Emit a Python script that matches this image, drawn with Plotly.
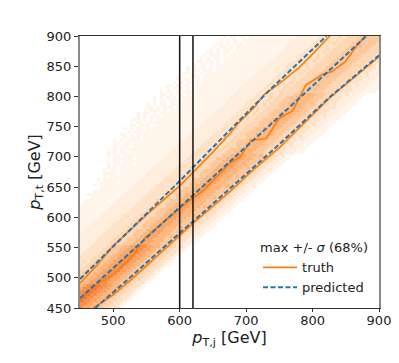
import plotly.graph_objects as go

bin_x = [452.5 + 5 * i for i in range(90)]
bin_y = [452.5 + 5 * j for j in range(90)]

# Density levels, 5 GeV cells. Each row is a faint upper tail
# (right-anchored) followed by a band profile picked by row_core.
band_A = "33333445567889988776655443321"
band_a = "33334455566778887766555443321"
band_B = "333344445556677766655544332211"
band_b = "333343444556677766656544332211"
band_C = "33334344455566666555444333222111"
band_c = "33343344445556666555444332322111"
band_D = "3333343444455555554444333322221111"
band_d = "3333433444455565554444333232221111"
bands = {"A": band_A, "a": band_a, "B": band_B, "b": band_b, "C": band_C, "c": band_c, "D": band_D, "d": band_d}
row_core = ("AAAAAAAA"
            "aaaaaaaaaaaaa"
            "BBbBBbBBBbBBbBBbBBBbBBbBBbBBBb"
            "CCcCCcCCCcCCcCCcCCCc"
            "DDdDDdDDDdDDdDDdDDD")
row_tail = ["1111111111"] * 33 + [
    "11111111111", "111111111", "1111111011", "111111111", "11111111101",
    "1111111111", "111111111", "101111111111", "11111011111", "1011111111111",
    "0101111111111", "1111011111111", "10110111111111", "11101111111111", "101111110111111",
    "1011011111111111", "10111111011111111", "101101111111111111", "1110110111111111111", "10101111111111111111",
    "1011101111111111111", "11011011111111111111", "101011111111111111111", "1011101111111111111", "110101111111111111111",
    "10111011111111111111", "1010110111111111111111", "110111011111111111111", "1011011111111111111111", "1101010111111111111111",
    "1010111011111111111111", "10110101111111111111111", "1011101011111111111111", "1101011101111111111111", "10101101111111111111111",
    "1011011101111111111111", "10101110111111111111111", "1101011011111111111111", "10110101111111111111111", "1011101011111111111111",
    "11010110111111111111111", "1010110101111111111111", "1011011011111111111111", "10101110111111111111111", "1101010111111111111111",
    "1011011101111111111111", "10101101011111111111111", "1011010111111111111111", "1101101011111111111111", "1010110111111111111111",
    "1011101011111111111111", "1101011011111111111111", "1010111011111111111111", "1011010111111111111111", "1101011101111111111111",
    "1010110111111111111111", "1011011011111111111111",
]
TWOS = "22222223"

z = [[0] * 90 for _ in range(90)]
for j in range(90):
    text = row_tail[j] + TWOS + bands[row_core[j]]
    first = j - 16 - len(row_tail[j]) - len(TWOS)
    for n, ch in enumerate(text):
        i = first + n
        if 0 <= i < 90:
            z[j][i] = int(ch)

truth_upper_x = [450, 475, 500, 550, 600, 650, 676, 686, 713, 728, 751, 780, 800, 826]
truth_upper_y = [491, 520, 553, 604, 652, 708, 739, 753, 783, 804, 822, 848, 870, 900]
truth_center_x = [450, 485, 500, 528, 548, 600, 620, 635, 676, 691, 708, 730, 750, 770, 790, 816, 829, 849, 864, 879]
truth_center_y = [465, 496, 505, 534, 566, 615, 632, 644, 690, 700, 728, 730, 764, 776, 819, 837, 841, 857, 880, 900]
truth_lower_x = [470, 500, 530, 600, 620, 676, 711, 751, 826, 900]
truth_lower_y = [450, 472, 500, 571, 590, 643, 679, 716, 798, 866]

pred_upper_x = [450, 500, 550, 600, 650, 676, 733, 800, 821]
pred_upper_y = [498, 552, 606, 660, 716, 745, 808, 878, 900]
pred_center_x = [450, 500, 550, 600, 650, 700, 776, 881]
pred_center_y = [466, 516, 566, 616, 666, 716, 793, 900]
pred_lower_x = [473, 500, 528, 600, 620, 676, 711, 751, 826, 900]
pred_lower_y = [450, 476, 503, 574, 593, 648, 683, 722, 799, 868]

vlines_x = [600, 620]

colors = ["#ffffff", "#fff5eb", "#ffeddd", "#fee3c8", "#fed7b4", "#fdc89c", "#fdb880", "#fba566", "#f8904a", "#f17a30"]
scale = [[i / 9, c] for i, c in enumerate(colors)]

fig = go.Figure()
fig.add_trace(go.Heatmap(x=bin_x, y=bin_y, z=z, zmin=0, zmax=9, colorscale=scale,
                         showscale=False, hoverinfo="skip"))

ORANGE = "#ff7f0e"
BLUE = "#1f77b4"
for i, (xs, ys) in enumerate([(truth_upper_x, truth_upper_y), (truth_center_x, truth_center_y), (truth_lower_x, truth_lower_y)]):
    fig.add_trace(go.Scatter(x=xs, y=ys, mode="lines", name="truth", showlegend=i == 0,
                             line=dict(color=ORANGE, width=1.7)))
for i, (xs, ys) in enumerate([(pred_upper_x, pred_upper_y), (pred_center_x, pred_center_y), (pred_lower_x, pred_lower_y)]):
    fig.add_trace(go.Scatter(x=xs, y=ys, mode="lines", name="predicted", showlegend=i == 0,
                             line=dict(color=BLUE, width=2, dash="5px,2.5px")))
for v in vlines_x:
    fig.add_vline(x=v, line=dict(color="#111111", width=1.5))

axis_font = dict(family="DejaVu Sans", size=13, color="#222222")
fig.update_layout(
    width=391, height=355, margin=dict(l=72, r=20, t=28, b=55, autoexpand=False),
    paper_bgcolor="white", plot_bgcolor="white", font=axis_font,
    legend=dict(title=dict(text="max +/- <i>σ</i> (68%)", font=dict(family="DejaVu Sans", size=13, color="#222222"), side="top"),
                x=0.97, y=0.02, xanchor="right", yanchor="bottom", bgcolor="rgba(0,0,0,0)",
                font=dict(family="DejaVu Sans", size=13, color="#222222"), itemwidth=34, tracegroupgap=0),
    xaxis=dict(range=[450, 900], tickvals=[500, 600, 700, 800, 900], ticks="outside", ticklen=3, tickcolor="#333333",
               showgrid=False, zeroline=False, showline=True, mirror=True, linecolor="#333333", linewidth=1,
               ticklabelstandoff=-3,
               title=dict(text="<i>p</i><sub>T,j</sub> [GeV]", standoff=3), tickfont=axis_font),
    yaxis=dict(range=[450, 900], tickvals=[450, 500, 550, 600, 650, 700, 750, 800, 850, 900], ticks="outside", ticklen=4, tickcolor="#333333",
               showgrid=False, zeroline=False, showline=True, mirror=True, linecolor="#8a8a8a", linewidth=2,
               title=dict(text="<i>p</i><sub>T,t</sub> [GeV]", standoff=2), tickfont=axis_font),
)
fig.write_html("out.html")
